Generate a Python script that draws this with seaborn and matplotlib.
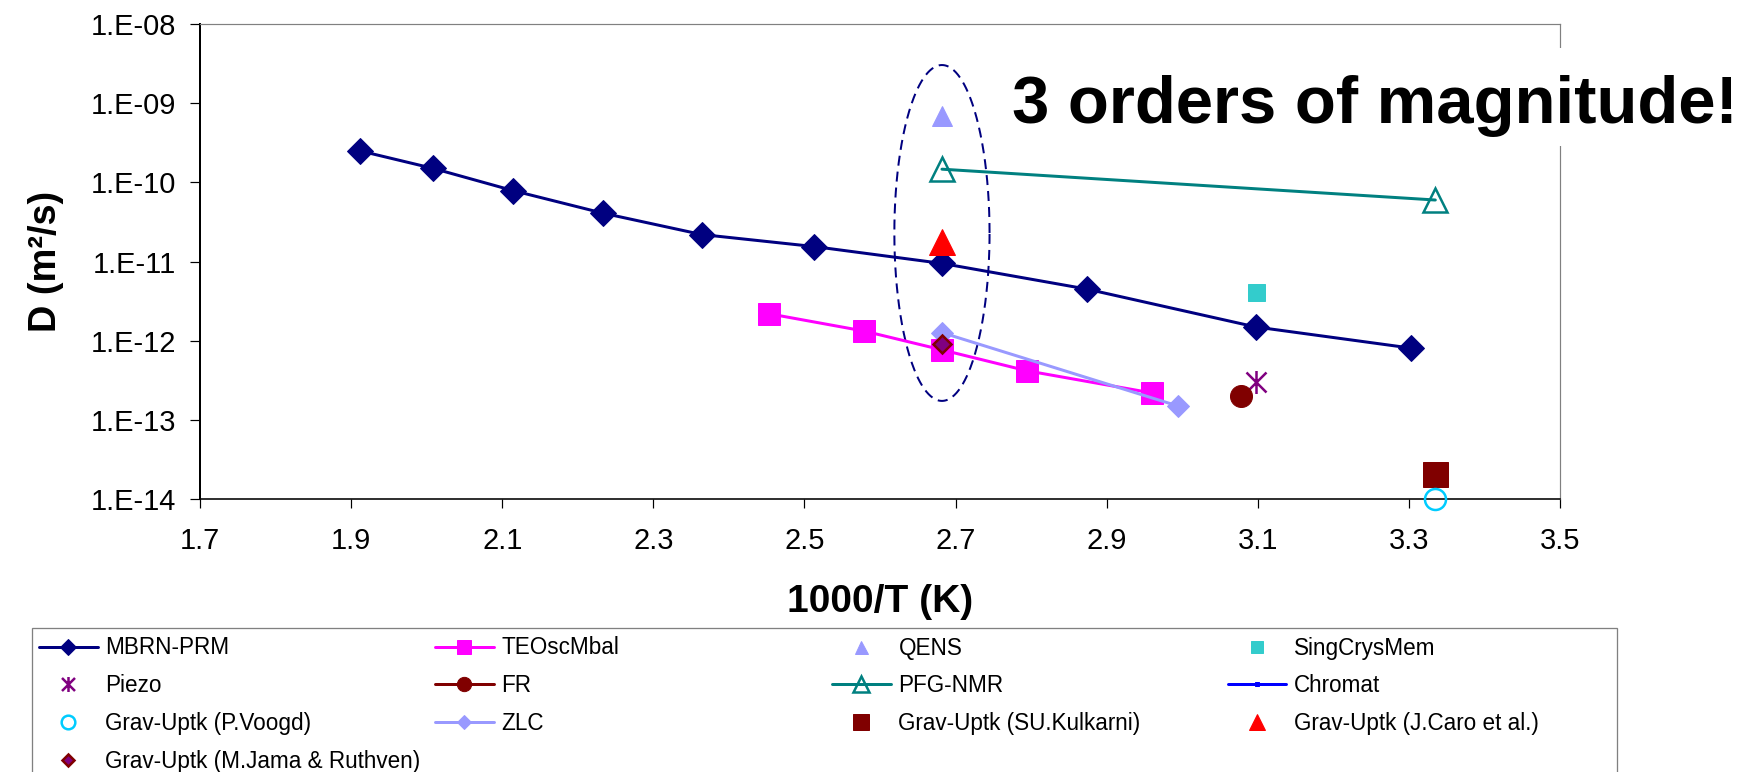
import numpy as np
import matplotlib
matplotlib.use("Agg")
import matplotlib.pyplot as plt
from matplotlib.lines import Line2D
from matplotlib.path import Path
from matplotlib.patches import Rectangle
from matplotlib.ticker import NullLocator
import seaborn as sns

# ---------------- data ----------------
mbrn_x = [1.912, 2.009, 2.114, 2.233, 2.364, 2.513, 2.682, 2.874, 3.097, 3.303]
mbrn_d = [2.5e-10, 1.5e-10, 7.9e-11, 4.1e-11, 2.2e-11, 1.55e-11, 9.5e-12, 4.5e-12, 1.5e-12, 8.1e-13]
teo_x = [2.453, 2.579, 2.682, 2.794, 2.960]
teo_d = [2.2e-12, 1.33e-12, 7.7e-13, 4.2e-13, 2.2e-13]
qens_x, qens_d = [2.682], [6.8e-10]
sing_x, sing_d = [3.098], [4.1e-12]
piezo_x, piezo_d = [3.097], [3.0e-13]
fr_x, fr_d = [3.078], [2.0e-13]
pfg_x = [2.682, 3.335]
pfg_d = [1.47e-10, 6.0e-11]
voogd_x, voogd_d = [3.335], [1.0e-14]
zlc_x = [2.682, 2.995]
zlc_d = [1.27e-12, 1.5e-13]
kulk_x, kulk_d = [3.335], [2.1e-14]
caro_x, caro_d = [2.682], [1.75e-11]
jama_x, jama_d = [2.682], [9.0e-13]

x_ticks = [1.7, 1.9, 2.1, 2.3, 2.5, 2.7, 2.9, 3.1, 3.3, 3.5]
y_ticks = [1e-14, 1e-13, 1e-12, 1e-11, 1e-10, 1e-9, 1e-8]
y_tick_labels = ["1.E-14", "1.E-13", "1.E-12", "1.E-11", "1.E-10", "1.E-09", "1.E-08"]

# legend columns (row-wise in the original chart)
legend_columns = [
    ["MBRN-PRM", "Piezo", "Grav-Uptk (P.Voogd)", "Grav-Uptk (M.Jama & Ruthven)"],
    ["TEOscMbal", "FR", "ZLC"],
    ["QENS", "PFG-NMR", "Grav-Uptk (SU.Kulkarni)"],
    ["SingCrysMem", "Chromat", "Grav-Uptk (J.Caro et al.)"],
]

annotation_text = "3 orders of magnitude!"

# ---------------- style ----------------
sns.set_theme(style="white")
plt.rcParams["font.family"] = ["Liberation Sans", "DejaVu Sans"]

W, H, DPI = 1756, 772, 72
fig = plt.figure(figsize=(W / DPI, H / DPI), dpi=DPI)
ax_left, ax_right, ax_top, ax_bottom = 200, 1560, 24, 499.3
ax = fig.add_axes([ax_left / W, 1 - ax_bottom / H, (ax_right - ax_left) / W, (ax_bottom - ax_top) / H])

# asterisk marker (X + vertical bar)
star_path = Path([(-1, -1), (1, 1), (-1, 1), (1, -1), (0, -1.15), (0, 1.15)],
                 [Path.MOVETO, Path.LINETO, Path.MOVETO, Path.LINETO, Path.MOVETO, Path.LINETO])

common = dict(ax=ax, estimator=None, sort=False, legend=False)

h = {}
def draw(name, xs, ys, **kw):
    sns.lineplot(x=xs, y=ys, label=name, **common, **kw)
    h[name] = ax.get_lines()[-1]

draw("MBRN-PRM", mbrn_x, mbrn_d, color="#000080", lw=3, marker="D", markersize=18,
     mec="#000080", mew=1, zorder=3)
draw("TEOscMbal", teo_x, teo_d, color="#FF00FF", lw=3, marker="s", markersize=22,
     mec="#FF00FF", mew=1, zorder=3)
draw("QENS", qens_x, qens_d, color="#9999FF", ls="none", marker="^", markersize=20,
     mec="#9999FF", mew=1, zorder=4)
draw("SingCrysMem", sing_x, sing_d, color="#33CCCC", ls="none", marker="s", markersize=17,
     mec="#33CCCC", mew=1, zorder=4)
draw("Piezo", piezo_x, piezo_d, color="#800080", ls="none", marker=star_path, markersize=23,
     mec="#800080", mfc="none", mew=2.5, zorder=4)
draw("FR", fr_x, fr_d, color="#800000", lw=3, marker="o", markersize=22,
     mec="#800000", mew=1, zorder=4)
draw("PFG-NMR", pfg_x, pfg_d, color="#008080", lw=3, marker="^", markersize=24,
     mec="#008080", mfc="none", mew=2.5, zorder=4)
draw("Grav-Uptk (P.Voogd)", voogd_x, voogd_d, color="#00CCFF", ls="none", marker="o",
     markersize=21, mec="#00CCFF", mfc="none", mew=2.5, zorder=6, clip_on=False)
draw("ZLC", zlc_x, zlc_d, color="#9999FF", lw=3, marker="D", markersize=16,
     mec="#9999FF", mew=1, zorder=4)
draw("Grav-Uptk (SU.Kulkarni)", kulk_x, kulk_d, color="#800000", ls="none", marker="s",
     markersize=25, mec="#800000", mew=1, zorder=5)
draw("Grav-Uptk (J.Caro et al.)", caro_x, caro_d, color="#FF0000", ls="none", marker="^",
     markersize=26, mec="#FF0000", mew=1, zorder=5)
draw("Grav-Uptk (M.Jama & Ruthven)", jama_x, jama_d, color="#800080", ls="none", marker="D",
     markersize=13, mec="#800000", mfc="#800080", mew=2.5, zorder=6)

# Chromat: legend-only entry (no data visible in the chart)
h["Chromat"] = Line2D([], [], color="#0000FF", lw=3, marker="s", markersize=7,
                      mec="#0000FF", mfc="#0000FF")

# dashed ellipse annotation around the 1000/T = 2.68 cluster
ell_cx, ell_rx = 2.682, 0.063
ell_cy, ell_ry = -10.638, 2.12  # in log10 units
t = np.linspace(0, 2 * np.pi, 400)
ax.plot(ell_cx + ell_rx * np.cos(t), 10 ** (ell_cy + ell_ry * np.sin(t)),
        color="#000080", lw=2, ls=(0, (5, 3)), zorder=2)

# ---------------- axes ----------------
ax.set_yscale("log")
ax.set_xlim(1.7, 3.5)
ax.set_ylim(1e-14, 1e-8)
ax.set_xticks(x_ticks)
ax.set_xticklabels([f"{v:.1f}" for v in x_ticks])
ax.set_yticks(y_ticks)
ax.set_yticklabels(y_tick_labels)
ax.yaxis.set_minor_locator(NullLocator())
ax.xaxis.set_minor_locator(NullLocator())
ax.tick_params(axis="both", which="major", direction="out", color="black",
               width=1.2, labelsize=29, labelcolor="black", bottom=True, left=True)
ax.tick_params(axis="y", length=10, pad=14)
ax.tick_params(axis="x", length=9, pad=19)

for side in ["left", "bottom"]:
    ax.spines[side].set_color("black")
ax.spines["left"].set_linewidth(2)
ax.spines["bottom"].set_linewidth(1.6)
for side in ["top", "right"]:
    ax.spines[side].set_color("#808080")
    ax.spines[side].set_linewidth(1.2)
ax.grid(False)
ax.set_facecolor("white")

ax.set_xlabel("1000/T (K)", fontsize=39, fontweight="bold", color="black")
ax.set_ylabel("D (m²/s)", fontsize=38, fontweight="bold", color="black")
ax.xaxis.set_label_coords(0.5, -(584 - ax_bottom) / (ax_bottom - ax_top))
ax.yaxis.set_label_coords((64 - ax_left) / (ax_right - ax_left), 0.5)

# ---------------- annotation text box ----------------
fig.patches.append(Rectangle((990 / W, 1 - 146 / H), 762 / W, 98 / H,
                             transform=fig.transFigure, facecolor="white",
                             edgecolor="none", zorder=5))
fig.text(1012 / W, 1 - 122.7 / H, annotation_text, fontsize=67, fontweight="bold",
         ha="left", va="baseline", color="black", zorder=6)

# ---------------- legend ----------------
leg_x0, leg_x1, leg_top = 31.6, 1617, 627.7
fig.patches.append(Rectangle((leg_x0 / W, -0.05), (leg_x1 - leg_x0) / W, 1 - leg_top / H + 0.05,
                             transform=fig.transFigure, facecolor="white",
                             edgecolor="#808080", linewidth=1.3, zorder=1))
col_x = [39, 435, 832, 1227.5]
first_row_top = 636.5
for cx, names in zip(col_x, legend_columns):
    lg = fig.legend([h[n] for n in names], names, loc="upper left",
                    bbox_to_anchor=(cx / W, 1 - first_row_top / H),
                    fontsize=22.5, handlelength=2.6, handletextpad=0.35,
                    borderpad=0, labelspacing=0.66, markerscale=0.65, numpoints=1,
                    borderaxespad=0, frameon=False)
    lg.set_zorder(3)
    for txt in lg.get_texts():
        txt.set_color("black")

fig.savefig("out.png", dpi=DPI, facecolor="white")
